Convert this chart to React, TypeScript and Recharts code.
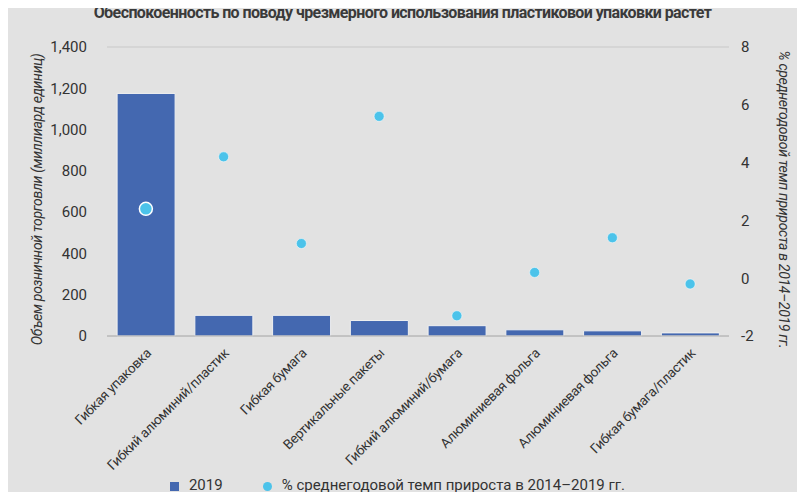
import { Bar, CartesianGrid, ComposedChart, Legend, Scatter, XAxis, YAxis } from "recharts";

const categories = [
  "Гибкая упаковка",
  "Гибкий алюминий/пластик",
  "Гибкая бумага",
  "Вертикальные пакеты",
  "Гибкий алюминий/бумага",
  "Алюминиевая фольга",
  "Алюминиевая фольга ",
  "Гибкая бумага/пластик",
];
const volume2019 = [1175, 100, 100, 75, 50, 30, 25, 15];
const growth = [2.4, 4.2, 1.2, 5.6, -1.3, 0.2, 1.4, -0.2];

const BAR_COLOR = "#4468b0";
const DOT_COLOR = "#4cc3ea";
const FONT = "Roboto, sans-serif";

const data = categories.map((name, i) => ({ name, v: volume2019[i], g: growth[i] }));

function Dot(props: any) {
  const big = props.index === 0;
  return (
    <circle
      cx={props.cx}
      cy={props.cy}
      r={big ? 6.5 : 5}
      fill={DOT_COLOR}
      stroke="#ffffff"
      strokeWidth={big ? 1.5 : 0.5}
    />
  );
}

function Tick(props: any) {
  const { x, y, payload } = props;
  return (
    <text
      x={x + 6}
      y={y + 10}
      transform={`rotate(-45 ${x + 6} ${y + 10})`}
      textAnchor="end"
      fontSize={13.5}
      fill="#333"
      fontFamily={FONT}
      letterSpacing={-0.3}
    >
      {payload.value.trim()}
    </text>
  );
}

function SideLabel({ viewBox, text, side }: any) {
  const { x, y, width, height } = viewBox;
  const cx = side === "l" ? x + 12 : x + width - 26;
  const cy = y + height / 2 + 8;
  return (
    <text
      x={cx}
      y={cy}
      transform={`rotate(${side === "l" ? -90 : 90} ${cx} ${cy})`}
      textAnchor="middle"
      fontSize={14}
      fontStyle="italic"
      fill="#333"
      fontFamily={FONT}
      letterSpacing={-0.3}
    >
      {text}
    </text>
  );
}

export default function App() {
  return (
    <div style={{ margin: -8, width: 805, height: 500, background: "#e2e2e2", position: "relative", fontFamily: FONT }}>
      <div style={{ position: "absolute", top: 3, left: 0, width: 805, textAlign: "center", fontWeight: "bold", fontSize: 16, color: "#3a3a3a", letterSpacing: -0.6, whiteSpace: "nowrap" }}>
        Обеспокоенность по поводу чрезмерного использования пластиковой упаковки растет
      </div>
      <ComposedChart
        width={805}
        height={500}
        data={data}
        margin={{ top: 47, right: 0, left: 30, bottom: 2 }}
        barCategoryGap="13%"
      >
        <CartesianGrid vertical={false} stroke="#c8c8c8" />
        <XAxis dataKey="name" interval={0} height={140} tick={<Tick />} tickLine={false} axisLine={{ stroke: "#b0b0b0" }} />
        <YAxis
          yAxisId="l"
          domain={[0, 1400]}
          ticks={[0, 200, 400, 600, 800, 1000, 1200, 1400]}
          tickFormatter={(v) => v.toLocaleString("en-US")}
          width={77}
          axisLine={false}
          tickLine={false}
          tick={{ fontSize: 15, fill: "#333", fontFamily: FONT }}
          tickMargin={14}
          label={<SideLabel side="l" text="Объем розничной торговли (миллиард единиц)" />}
        />
        <YAxis
          yAxisId="r"
          orientation="right"
          domain={[-2, 8]}
          ticks={[-2, 0, 2, 4, 6, 8]}
          width={76}
          axisLine={false}
          tickLine={false}
          tick={{ fontSize: 15, fill: "#333", fontFamily: FONT }}
          tickMargin={6}
          label={<SideLabel side="r" text="% среднегодовой темп прироста в 2014–2019 гг." />}
        />
        <Legend
          verticalAlign="bottom"
          height={22}
          iconSize={9}
          itemSorter={(item: any) => (item.value === "2019" ? 0 : 1)}
          wrapperStyle={{ fontSize: 15, color: "#333" }}
          formatter={(v) => <span style={{ color: "#333", margin: "0 30px 0 6px" }}>{v}</span>}
        />
        <Bar yAxisId="l" dataKey="v" name="2019" legendType="square" fill={BAR_COLOR} stroke="#f0f0f0" strokeWidth={1} isAnimationActive={false} />
        <Scatter yAxisId="r" dataKey="g" name="% среднегодовой темп прироста в 2014–2019 гг." legendType="circle" fill={DOT_COLOR} shape={<Dot />} isAnimationActive={false} />
      </ComposedChart>
    </div>
  );
}
